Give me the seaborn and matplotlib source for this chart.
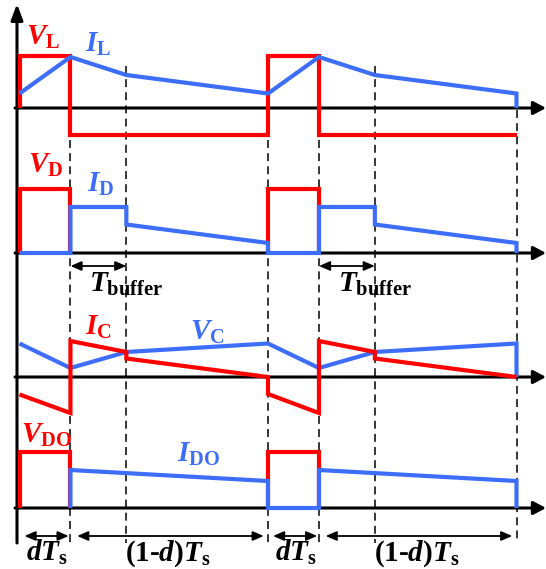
import numpy as np
import pandas as pd
import matplotlib
matplotlib.use("Agg")
import matplotlib.pyplot as plt
import seaborn as sns

# ---- timing (one switching period T = 1) ----
T = 1.0
d = 0.205          # duty ratio
tb = 0.225         # buffer interval
EDGES = [d, d + tb, T, T + d, T + d + tb, 2 * T]

# ---- waveform shapes: (time, level above the trace's own zero line) ----
VL_t = [[0, 0, d, d, T, T, T + d, T + d, 2 * T]]
VL_v = [[0, 52, 52, -27, -27, 52, 52, -27, -27]]
IL_t = [[0, d, d + tb, T, T + d, T + d + tb, 2 * T, 2 * T]]
IL_v = [[14.5, 51, 33, 14.5, 51, 33, 14.5, 0]]

VD_t = [[0, 0, d, d], [T, T, T + d, T + d]]
VD_v = [[0, 64, 64, 0], [0, 64, 64, 0]]
ID_t = [[0, d, d, d + tb, d + tb, T, T, T + d, T + d, T + d + tb, T + d + tb, 2 * T, 2 * T]]
ID_v = [[0, 0, 46, 46, 28.5, 10, 0, 0, 46, 46, 28.5, 10, 0]]

VC_t = [[0, d, d + tb, T, T + d, T + d + tb, 2 * T, 2 * T]]
VC_v = [[33.5, 9, 25, 33.5, 9, 25, 33.5, 0]]
IC_t = [[0, d, d, d + tb, d + tb, T, T, T + d, T + d, T + d + tb, T + d + tb, 2 * T]]
IC_v = [[-17.5, -36, 36, 25, 18.5, 0, -17, -36, 36, 25, 18.5, 0]]

VDO_t = [[0, 0, d, d], [T, T, T + d, T + d]]
VDO_v = [[0, 56, 56, 0], [0, 56, 56, 0]]
IDO_t = [[d, d, T, T, T + d, T + d, 2 * T, 2 * T]]
IDO_v = [[0, 38, 27, 0, 0, 38, 27, 0]]

RED = "#FF0000"
BLUE = "#3D6EFA"

W, H = 546, 569
sns.set_theme(style="white")
plt.rcParams["mathtext.fontset"] = "custom"
plt.rcParams["mathtext.it"] = "Liberation Serif:italic:bold"
plt.rcParams["mathtext.rm"] = "Liberation Serif:bold"
plt.rcParams["mathtext.bf"] = "Liberation Serif:bold"
plt.rcParams["font.family"] = ["Liberation Serif", "DejaVu Sans"]

fig = plt.figure(figsize=(W / 100, H / 100), dpi=100)
ax = fig.add_axes([0, 0, 1, 1])
ax.axis("off")

# layout helpers: axes units are time horizontally, pixel rows vertically
X0, SPAN = 19.5, 248.5
def X(px):
    return (px - X0) / SPAN
def Y(py):
    return H - py

ax.set_xlim(X(0), X(W))
ax.set_ylim(0, H)

ROWS = [108, 253, 377, 508]          # zero line of each trace group
BASES = [Y(r) for r in ROWS]


def trace(ts, vs, base, color):
    rows = []
    for k, (tt, vv) in enumerate(zip(ts, vs)):
        for a, b in zip(tt, vv):
            rows.append({"t": a, "v": base + b, "seg": k})
    df = pd.DataFrame(rows)
    sns.lineplot(data=df, x="t", y="v", units="seg", estimator=None, sort=False,
                 color=color, lw=3.0, ax=ax, legend=False,
                 solid_joinstyle="miter", solid_capstyle="butt", zorder=5)


# dashed time markers
tops = [140, 66, 140, 140, 66, 110]
for t, top in zip(EDGES, tops):
    ax.plot([t, t], [Y(top), Y(543)], color="black", lw=1.1,
            linestyle=(0, (5.2, 3.4)), zorder=2)

# axes with arrow heads
for b in BASES:
    ax.annotate("", xy=(X(546), b), xytext=(X(15), b),
                arrowprops=dict(arrowstyle="-|>,head_length=7.5,head_width=4.0",
                                mutation_scale=1, lw=2.2, color="black",
                                shrinkA=0, shrinkB=0), zorder=3)
ax.annotate("", xy=(X(17), Y(4)), xytext=(X(17), Y(543)),
            arrowprops=dict(arrowstyle="-|>,head_length=9.5,head_width=3.6",
                            mutation_scale=1, lw=2.2, color="black",
                            shrinkA=0, shrinkB=0), zorder=3)

# waveforms
trace(VL_t, VL_v, BASES[0], RED)
trace(IL_t, IL_v, BASES[0], BLUE)
trace(VD_t, VD_v, BASES[1], RED)
trace(ID_t, ID_v, BASES[1], BLUE)
trace(VC_t, VC_v, BASES[2], BLUE)
trace(IC_t, IC_v, BASES[2], RED)
trace(VDO_t, VDO_v, BASES[3], RED)
trace(IDO_t, IDO_v, BASES[3], BLUE)

FS = 21

def label(s, px, py, color, ha="left"):
    ax.text(X(px), Y(py), s, color=color, fontsize=FS, ha=ha, va="baseline", zorder=6)

label(r"$V_{\mathrm{L}}$", 26, 45, RED)
label(r"$I_{\mathrm{L}}$", 85, 52, BLUE)
label(r"$V_{\mathrm{D}}$", 28, 173, RED)
label(r"$I_{\mathrm{D}}$", 87, 192, BLUE)
label(r"$I_{\mathrm{C}}$", 85, 335, RED)
label(r"$V_{\mathrm{C}}$", 190, 340, BLUE)
label(r"$V_{\mathrm{DO}}$", 21, 443, RED)
label(r"$I_{\mathrm{DO}}$", 177, 462, BLUE)

# interval arrows
def span_arrow(t1, t2, py):
    ax.annotate("", xy=(t2, Y(py)), xytext=(t1, Y(py)),
                arrowprops=dict(arrowstyle="<|-|>,head_length=0.65,head_width=0.28",
                                mutation_scale=10, lw=1.3, color="black",
                                shrinkA=0, shrinkB=0), zorder=4)

for t0 in (0, T):
    span_arrow(t0 + d, t0 + d + tb, 266)
    label(r"$T_{\mathrm{buffer}}$", X0 + SPAN * (t0 + d) + 19, 292, "black")
    span_arrow(t0 + 0.02, t0 + d - 0.007, 536)
    span_arrow(t0 + d + 0.027, t0 + T - 0.017, 536)
    ax.text(t0 + d / 2 + 0.008, Y(561), r"$dT_{\mathrm{s}}$", fontsize=FS,
            ha="center", va="baseline", color="black")
    ax.text(t0 + (d + T) / 2 - 0.005, Y(561), r"$\mathrm{(1\text{-}}d\mathrm{)}T_{\mathrm{s}}$",
            fontsize=FS, ha="center", va="baseline", color="black")

fig.savefig("out.png", dpi=100)
